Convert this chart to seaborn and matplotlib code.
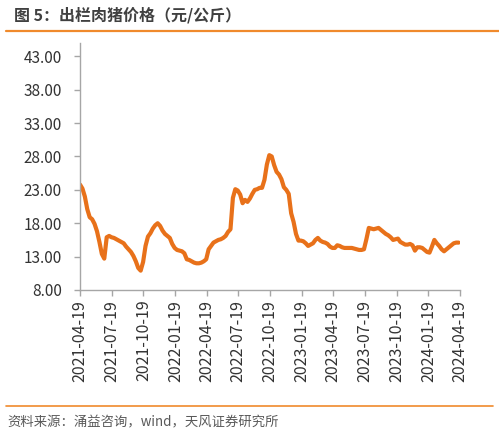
import numpy as np
import pandas as pd
import matplotlib
matplotlib.use("Agg")
import matplotlib.pyplot as plt
import matplotlib.dates as mdates
from matplotlib.lines import Line2D
import seaborn as sns

# ---- data (weekly hog price, yuan/kg) ----
start_date = "2021-04-19"
prices = [
    23.8, 23.2, 22.0, 20.1, 18.9, 18.6, 17.9, 16.8, 15.2, 13.4,
    12.7, 15.9, 16.1, 15.9, 15.8, 15.6, 15.4, 15.2, 15.0, 14.5,
    14.1, 13.7, 13.1, 12.3, 11.3, 10.9, 12.2, 14.6, 16.0, 16.5,
    17.2, 17.7, 18.0, 17.6, 16.9, 16.4, 16.1, 15.8, 14.9, 14.3,
    14.0, 13.9, 13.8, 13.5, 12.6, 12.5, 12.3, 12.1, 12.0, 12.0,
    12.1, 12.3, 12.6, 14.1, 14.6, 15.1, 15.3, 15.5, 15.6, 15.8,
    16.1, 16.7, 17.1, 21.8, 23.1, 22.9, 22.3, 21.0, 21.5, 21.2,
    21.7, 22.4, 23.0, 23.1, 23.3, 23.3, 24.5, 26.8, 28.2, 28.0,
    26.7, 25.7, 25.3, 24.6, 23.4, 23.0, 22.4, 19.5, 18.2, 16.4,
    15.4, 15.4, 15.3, 15.0, 14.6, 14.8, 15.0, 15.5, 15.8, 15.4,
    15.2, 15.1, 14.9, 14.5, 14.3, 14.3, 14.7, 14.6, 14.4, 14.3,
    14.3, 14.3, 14.3, 14.2, 14.1, 14.0, 14.0, 14.1, 15.6, 17.3,
    17.2, 17.1, 17.2, 17.3, 17.0, 16.7, 16.4, 16.2, 15.9, 15.5,
    15.6, 15.7, 15.2, 15.0, 14.8, 14.8, 14.9, 14.7, 13.9, 14.4,
    14.4, 14.3, 14.0, 13.7, 13.6, 14.5, 15.5, 15.0, 14.6, 14.1,
    13.8, 14.1, 14.4, 14.7, 15.0, 15.1, 15.1,
]
tick_dates = ["2021-04-19", "2021-07-19", "2021-10-19", "2022-01-19",
              "2022-04-19", "2022-07-19", "2022-10-19", "2023-01-19",
              "2023-04-19", "2023-07-19", "2023-10-19", "2024-01-19",
              "2024-04-19"]
y_ticks = [8, 13, 18, 23, 28, 33, 38, 43]
title = "图 5：出栏肉猪价格（元/公斤）"
source = "资料来源：涌益咨询，wind，天风证券研究所"

dates = pd.date_range(start_date, periods=len(prices), freq="7D")
df = pd.DataFrame({"date": dates, "price": prices})

sns.set_style("white")
plt.rcParams["font.family"] = ["Noto Sans CJK SC", "DejaVu Sans"]

W, H = 499, 436
fig = plt.figure(figsize=(W / 100, H / 100), dpi=100)
ax = fig.add_axes([80 / W, 1 - 290 / H, 380 / W, 247 / H])

sns.lineplot(data=df, x="date", y="price", ax=ax, color="#E8711A",
             linewidth=3.0, solid_capstyle="round", solid_joinstyle="round")

tdates = pd.to_datetime(tick_dates)
ax.set_xlim(tdates[0], tdates[-1])
ax.set_ylim(8, 45)
ax.set_xticks(tdates)
ax.set_xticklabels([d for d in tick_dates], rotation=90, fontsize=11.5,
                   color="#333333")
ax.set_yticks(y_ticks)
ax.set_yticklabels([f"{v:.2f}" for v in y_ticks], fontsize=11,
                   color="#333333")
ax.set_xlabel("")
ax.set_ylabel("")

for s in ["top", "right"]:
    ax.spines[s].set_visible(False)
for s in ["left", "bottom"]:
    ax.spines[s].set_color("#A6A6A6")
    ax.spines[s].set_linewidth(1.0)
ax.tick_params(axis="both", which="major", direction="out", length=4,
               width=1.0, color="#A6A6A6", left=True, bottom=True)
ax.tick_params(axis="y", pad=9)
ax.tick_params(axis="x", pad=3)
ax.grid(False)

# header and footer
fig.text(14 / W, 1 - 15 / H, title, fontsize=11.5, fontweight="bold",
         color="#404040", va="center", ha="left")
fig.add_artist(Line2D([6 / W, 1.0], [1 - 31 / H, 1 - 31 / H],
                      color="#F08A2C", linewidth=1.6,
                      transform=fig.transFigure))
fig.add_artist(Line2D([6 / W, 493 / W], [1 - 406 / H, 1 - 406 / H],
                      color="#F08A2C", linewidth=1.2,
                      transform=fig.transFigure))
fig.text(7 / W, 1 - 422 / H, source, fontsize=9.6, color="#595959",
         va="center", ha="left")

fig.savefig("out.png", dpi=100, facecolor="white")
